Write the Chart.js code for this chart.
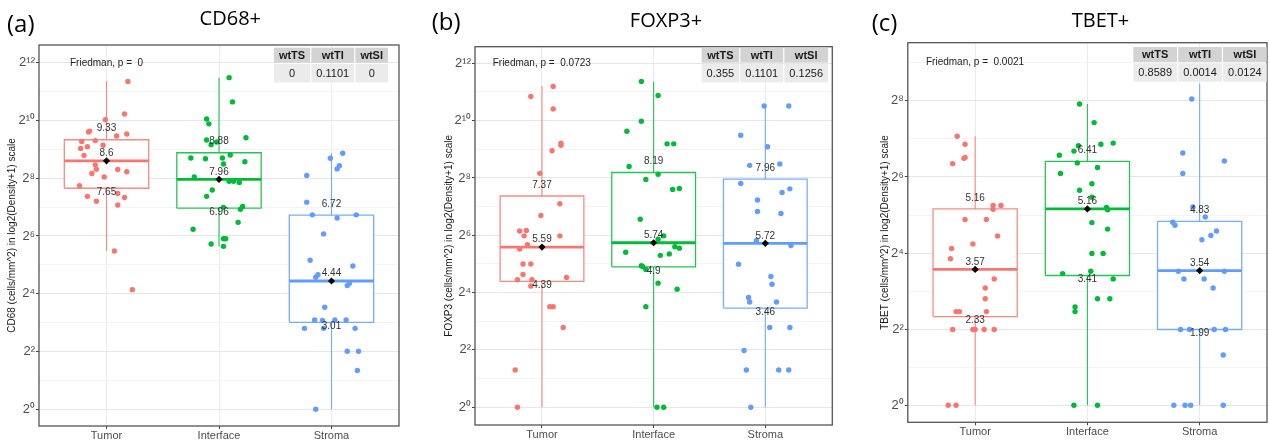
<!DOCTYPE html>
<html>
<head>
<meta charset="utf-8">
<script src="https://cdn.jsdelivr.net/npm/chart.js@4.4.0/dist/chart.umd.min.js"></script>
<style>
  body { margin: 0; width: 1269px; height: 444px; overflow: hidden; background: #fff; position: relative; }
  canvas { position: absolute; top: 0; }
</style>
</head>
<body>
<canvas id="chartA" width="420" height="444" style="left:0px"></canvas>
<canvas id="chartB" width="430" height="444" style="left:420px"></canvas>
<canvas id="chartC" width="421" height="444" style="left:850px"></canvas>
<script>
const groups = ['Tumor', 'Interface', 'Stroma'];
const testNames = ['wtTS', 'wtTI', 'wtSI'];

// all values in log2(Density+1) units
// --- CD68+
const cd68Q1 = [7.65, 6.96, 3.01];
const cd68Median = [8.6, 7.96, 4.44];
const cd68Q3 = [9.33, 8.88, 6.72];
const cd68Low = [5.48, 5.64, 0];
const cd68High = [11.36, 11.48, 8.86];
const cd68Tests = ['0', '0.1101', '0'];
const cd68Friedman = '0';
const cd68Tumor = [11.35, 10.02, 10.22, 9.63, 9.6, 9.53, 9.46, 9.27, 9.3, 9.14, 9.09, 9.03, 8.79, 8.46, 8.31, 8.3, 8.22, 8.16, 8.04, 7.74, 7.47, 7.37, 7.33, 7.2, 7.07, 5.48, 4.14];
const cd68TumorJit = [0.19, -0.01, 0.16, -0.15, -0.16, 0.18, 0.09, -0.22, -0.1, -0.03, -0.17, -0.23, -0.2, -0.1, -0.09, 0.1, 0.18, -0.13, -0.02, -0.24, 0.1, -0.17, 0.16, -0.09, 0.1, 0.07, 0.23];
const cd68Interface = [11.48, 10.64, 10.05, 9.88, 9.4, 9.32, 9.16, 9.25, 8.7, 8.67, 8.7, 8.8, 8.57, 8.49, 8.04, 7.89, 7.89, 7.85, 7.59, 7.37, 6.99, 7.02, 6.92, 6.47, 6.23, 5.72, 5.9, 5.9, 5.64];
const cd68InterfaceJit = [0.09, 0.12, -0.11, -0.09, 0.24, -0.11, -0.07, -0.02, -0.25, -0.12, 0.03, 0.1, 0.23, 0.04, -0.22, 0.09, 0.13, 0.18, -0.06, -0.11, 0.04, 0.21, 0.19, 0.17, -0.23, -0.07, 0.04, 0.06, 0.04];
const cd68Stroma = [8.86, 8.69, 8.43, 8.32, 8.09, 7.17, 6.73, 6.73, 6.62, 6.07, 5.16, 4.96, 4.66, 4.57, 4.28, 4.36, 3.53, 3.09, 3.07, 3.09, 3.09, 2.8, 2.8, 2.8, 2.01, 2.01, 1.34, 0];
const cd68StromaJit = [0.1, -0.01, 0.07, 0.05, -0.22, -0.22, -0.17, 0.22, 0.05, -0.07, -0.19, 0.19, -0.12, -0.14, 0.14, 0.16, -0.06, -0.15, -0.08, 0.03, 0.13, -0.24, -0.07, 0.21, 0.14, 0.24, 0.23, -0.14];

// --- FOXP3+
const foxp3Q1 = [4.39, 4.9, 3.46];
const foxp3Median = [5.59, 5.74, 5.72];
const foxp3Q3 = [7.37, 8.19, 7.96];
const foxp3Low = [0, 0, 0];
const foxp3High = [11.2, 11.37, 10.51];
const foxp3Tests = ['0.355', '0.1101', '0.1256'];
const foxp3Friedman = '0.0723';
const foxp3Tumor = [11.19, 10.84, 10.41, 9.21, 9.14, 8.95, 8.16, 7.1, 6.69, 6.15, 6.17, 5.98, 5.98, 5.67, 5.52, 5.0, 5.0, 4.63, 4.53, 4.45, 4.45, 4.23, 3.51, 3.51, 2.78, 1.3, 0];
const foxp3TumorJit = [0.1, -0.1, 0.1, 0.17, 0.17, 0.09, -0.02, 0.16, -0.01, -0.2, -0.14, -0.16, 0.16, -0.13, -0.2, -0.17, -0.1, -0.17, 0.22, -0.22, -0.09, -0.1, 0.07, 0.1, 0.19, -0.24, -0.22];
const foxp3Interface = [11.37, 10.88, 9.98, 9.63, 9.19, 9.19, 8.4, 8.13, 7.95, 7.6, 7.63, 6.56, 5.98, 5.86, 5.6, 5.55, 5.41, 5.35, 5.3, 4.94, 4.91, 4.81, 4.33, 4.12, 3.51, 0, 0];
const foxp3InterfaceJit = [-0.11, 0.04, -0.11, -0.24, 0.12, 0.18, -0.22, 0.04, -0.07, 0.17, 0.23, -0.12, 0.09, 0.04, 0.19, 0.23, -0.25, 0.14, 0.06, -0.11, -0.1, -0.07, 0.04, 0.21, -0.07, 0.03, 0.09];
const foxp3Stroma = [10.51, 10.51, 9.49, 9.09, 8.44, 8.49, 7.81, 7.62, 7.49, 7.23, 6.83, 6.76, 5.81, 5.64, 4.99, 4.56, 4.29, 3.83, 3.67, 3.67, 2.78, 2.78, 1.98, 1.3, 1.3, 1.3, 0];
const foxp3StromaJit = [-0.01, 0.21, -0.22, 0.02, -0.14, 0.13, -0.22, 0.22, 0.15, -0.07, -0.07, 0.14, -0.08, 0.23, -0.24, 0.05, 0.06, -0.15, -0.14, 0.1, 0.04, 0.22, -0.19, -0.17, 0.12, 0.21, -0.13];

// --- TBET+
const tbetQ1 = [2.33, 3.41, 1.99];
const tbetMedian = [3.57, 5.16, 3.54];
const tbetQ3 = [5.16, 6.41, 4.83];
const tbetLow = [0, 0, 0];
const tbetHigh = [7.07, 7.92, 8.46];
const tbetTests = ['0.8589', '0.0014', '0.0124'];
const tbetFriedman = '0.0021';
const tbetTumor = [7.07, 6.86, 6.35, 6.49, 6.51, 5.25, 5.25, 5.15, 4.88, 4.88, 4.45, 4.24, 4.12, 3.85, 3.32, 3.08, 2.8, 2.46, 2.46, 2.46, 1.99, 1.99, 1.99, 1.99, 1.99, 0, 0];
const tbetTumorJit = [-0.16, -0.09, -0.2, -0.1, -0.09, 0.16, 0.23, 0.16, -0.09, 0.1, 0.2, -0.02, -0.21, -0.22, 0.17, 0.09, 0.09, -0.17, -0.14, 0.1, -0.2, -0.02, 0.0, 0.08, 0.17, -0.24, -0.17];
const tbetInterface = [7.92, 7.43, 6.89, 6.86, 6.82, 6.68, 6.57, 6.37, 6.25, 6.09, 5.82, 5.65, 5.47, 5.2, 5.14, 4.8, 4.63, 3.99, 3.99, 3.52, 3.46, 3.32, 2.8, 2.8, 2.58, 2.46, 0, 0];
const tbetInterfaceJit = [-0.07, 0.06, 0.23, 0.12, -0.08, -0.12, -0.25, -0.09, 0.09, -0.24, 0.04, -0.07, 0.04, 0.17, 0.18, 0.04, 0.18, 0.04, 0.14, 0.03, -0.22, 0.23, 0.09, 0.2, -0.11, -0.11, -0.12, 0.09];
const tbetStroma = [8.05, 6.63, 6.42, 6.09, 5.21, 4.95, 4.81, 4.73, 4.58, 4.46, 4.35, 3.52, 3.52, 3.32, 3.32, 3.08, 1.99, 1.99, 1.99, 1.99, 1.32, 0, 0, 0, 0];
const tbetStromaJit = [-0.07, -0.15, 0.22, -0.15, -0.06, 0.05, -0.24, -0.22, 0.15, 0.1, 0.02, -0.19, 0.22, -0.14, 0.04, 0.12, -0.17, -0.09, 0.13, 0.23, 0.21, -0.23, -0.13, -0.08, 0.21];

const pointColors = ['#F8766D', '#00BA38', '#619CFF'];
const lineColors = ['rgba(248,118,109,0.85)', 'rgba(0,186,56,0.85)', 'rgba(97,156,255,0.85)'];
const BOX_HALF = 0.375;

const sup = { '0': '\u2070', '1': '\u00B9', '2': '\u00B2', '3': '\u00B3', '4': '\u2074', '5': '\u2075', '6': '\u2076', '7': '\u2077', '8': '\u2078', '9': '\u2079' };
function powLabel(v) {
    return '2' + String(v).split('').map(c => sup[c]).join('');
}

function buildDatasets(s) {
    const ds = [];
    for (let i = 0; i < groups.length; i++) {
        // whiskers
        ds.push({
            type: 'line', order: 5, borderColor: lineColors[i], borderWidth: 1.1,
            pointRadius: 0, spanGaps: false, tension: 0,
            data: [{ x: i, y: s.low[i] }, { x: i, y: s.q1[i] }, { x: i, y: null }, { x: i, y: s.q3[i] }, { x: i, y: s.high[i] }]
        });
        // box
        ds.push({
            type: 'line', order: 4, borderColor: lineColors[i], borderWidth: 1.3,
            backgroundColor: '#ffffff', fill: 'shape', pointRadius: 0, tension: 0,
            data: [
                { x: i - BOX_HALF, y: s.q1[i] }, { x: i + BOX_HALF, y: s.q1[i] },
                { x: i + BOX_HALF, y: s.q3[i] }, { x: i - BOX_HALF, y: s.q3[i] },
                { x: i - BOX_HALF, y: s.q1[i] }
            ]
        });
        // median
        ds.push({
            type: 'line', order: 3, borderColor: pointColors[i], borderWidth: 2.8,
            pointRadius: 0, tension: 0,
            data: [{ x: i - BOX_HALF, y: s.med[i] }, { x: i + BOX_HALF, y: s.med[i] }]
        });
        // jittered observations
        ds.push({
            type: 'scatter', order: 2, backgroundColor: pointColors[i], borderWidth: 0,
            pointRadius: 2.7,
            data: s.pts[i].map((v, k) => ({ x: i + s.jit[i][k], y: v }))
        });
        // median marker
        ds.push({
            type: 'scatter', order: 0, backgroundColor: '#000', borderColor: '#000', borderWidth: 0,
            pointStyle: 'rectRot', pointRadius: 3.6,
            data: [{ x: i, y: s.med[i] }]
        });
    }
    return ds;
}

const decor = {
    id: 'decor',
    afterDatasetsDraw(chart, args, o) {
        const { ctx, chartArea: a, scales: { x, y } } = chart;
        ctx.save();
        // box value labels
        ctx.font = '10px "Liberation Sans", Arial, sans-serif';
        ctx.fillStyle = '#333';
        ctx.textAlign = 'center';
        ctx.textBaseline = 'middle';
        for (let i = 0; i < groups.length; i++) {
            const px = x.getPixelForValue(i);
            ctx.fillText(String(o.q3[i]), px, y.getPixelForValue(o.q3[i]) - 11);
            ctx.fillText(String(o.med[i]), px, y.getPixelForValue(o.med[i]) - 7.5);
            ctx.fillText(String(o.q1[i]), px, y.getPixelForValue(o.q1[i]) + 4);
        }
        // panel border
        ctx.strokeStyle = '#555';
        ctx.lineWidth = 1.3;
        ctx.strokeRect(a.left, a.top, a.width, a.height);
        // Friedman label
        ctx.textAlign = 'left';
        ctx.fillStyle = '#222';
        ctx.fillText('Friedman, p =  ' + o.friedman, o.pX, o.pY);
        // test table
        const fb = 'bold 11px "Liberation Sans", Arial, sans-serif';
        const fn = '11px "Liberation Sans", Arial, sans-serif';
        ctx.font = fb;
        const hw = testNames.map(n => ctx.measureText(n).width);
        ctx.font = fn;
        const vw = o.tests.map(v => ctx.measureText(v).width);
        const cw = hw.map((w, i) => Math.max(w, vw[i]) + 10);
        const gap = 1.2, hH = 15, vH = 18.5;
        let cx = o.tableRight - cw.reduce((s, w) => s + w, 0) - gap * (cw.length - 1);
        ctx.textAlign = 'center';
        cw.forEach((w, i) => {
            ctx.fillStyle = '#d3d3d3';
            ctx.fillRect(cx, o.tableTop, w, hH);
            ctx.fillStyle = '#ebebeb';
            ctx.fillRect(cx, o.tableTop + hH + gap, w, vH);
            ctx.fillStyle = '#1a1a1a';
            ctx.font = fb;
            ctx.fillText(testNames[i], cx + w / 2, o.tableTop + hH / 2 + 0.5);
            ctx.font = fn;
            ctx.fillText(o.tests[i], cx + w / 2, o.tableTop + hH + gap + vH / 2 + 0.5);
            cx += w + gap;
        });
        // panel tag and title
        ctx.fillStyle = '#000';
        ctx.textAlign = 'left';
        ctx.font = '24px "Open Sans", sans-serif';
        ctx.fillText(o.tag, o.tagX, o.tagY);
        ctx.textAlign = 'center';
        ctx.font = '20px "Open Sans", sans-serif';
        ctx.fillText(o.title, o.titleX, o.titleY);
        ctx.restore();
    }
};

Chart.defaults.font.family = '"Liberation Sans", Arial, sans-serif';

function makePanel(id, cfg) {
    const stats = { q1: cfg.q1, med: cfg.med, q3: cfg.q3, low: cfg.low, high: cfg.high, pts: cfg.pts, jit: cfg.jit };
    new Chart(document.getElementById(id), {
        type: 'scatter',
        data: { datasets: buildDatasets(stats) },
        plugins: [decor],
        options: {
            responsive: false,
            animation: false,
            layout: { padding: cfg.padding },
            plugins: {
                legend: { display: false },
                tooltip: { enabled: false },
                decor: {
                    q1: cfg.q1, med: cfg.med, q3: cfg.q3,
                    friedman: cfg.friedman, tests: cfg.tests,
                    pX: cfg.pX, pY: cfg.pY, tableRight: cfg.tableRight, tableTop: cfg.tableTop,
                    tag: cfg.tag, tagX: cfg.tagX, tagY: cfg.tagY,
                    title: cfg.title, titleX: cfg.titleX, titleY: cfg.titleY
                }
            },
            scales: {
                x: {
                    type: 'linear', min: -0.6, max: 2.6,
                    afterBuildTicks: s => { s.ticks = groups.map((g, i) => ({ value: i })); },
                    afterFit: s => { s.height = cfg.xH; },
                    border: { display: false },
                    grid: { color: '#ebebeb', tickLength: 3, tickColor: '#444' },
                    ticks: { padding: 0, color: '#4d4d4d', font: { size: 11 }, maxRotation: 0, callback: v => groups[v] }
                },
                y: {
                    type: 'linear', min: cfg.yMin, max: cfg.yMax,
                    afterBuildTicks: s => {
                        const t = [];
                        for (let v = 0; v <= Math.floor(cfg.yMax); v++) t.push({ value: v });
                        s.ticks = t;
                    },
                    afterFit: s => { s.width = cfg.yW; },
                    border: { display: false },
                    grid: {
                        color: c => (c.tick && c.tick.value % 2 !== 0) ? '#f4f4f4' : '#e6e6e6',
                        tickLength: 3,
                        tickColor: c => (c.tick && c.tick.value % 2 !== 0) ? 'rgba(0,0,0,0)' : '#444'
                    },
                    ticks: { padding: 1, color: '#4d4d4d', font: { size: 13 }, callback: v => (v % 2 === 0 ? powLabel(v) : '') },
                    title: { display: true, text: cfg.yTitle, color: '#1a1a1a', font: { size: 10 }, padding: 0 }
                }
            }
        }
    });
}

makePanel('chartA', {
    q1: cd68Q1, med: cd68Median, q3: cd68Q3, low: cd68Low, high: cd68High,
    pts: [cd68Tumor, cd68Interface, cd68Stroma], jit: [cd68TumorJit, cd68InterfaceJit, cd68StromaJit],
    tests: cd68Tests, friedman: cd68Friedman,
    yTitle: 'CD68 (cells/mm^2) in log2(Density+1) scale', title: 'CD68+', tag: '(a)',
    padding: { top: 45, right: 21, bottom: 0, left: 6.7 }, yW: 32.3, xH: 18, yMin: -0.58, yMax: 12.61,
    pX: 70, pY: 63, tableRight: 388, tableTop: 47.7, tagX: 7, tagY: 25, titleX: 230.3, titleY: 19
});

makePanel('chartB', {
    q1: foxp3Q1, med: foxp3Median, q3: foxp3Q3, low: foxp3Low, high: foxp3High,
    pts: [foxp3Tumor, foxp3Interface, foxp3Stroma], jit: [foxp3TumorJit, foxp3InterfaceJit, foxp3StromaJit],
    tests: foxp3Tests, friedman: foxp3Friedman,
    yTitle: 'FOXP3 (cells/mm^2) in log2(Density+1) scale', title: 'FOXP3+', tag: '(b)',
    padding: { top: 46.7, right: 17.7, bottom: 0, left: 23.3 }, yW: 31.7, xH: 19, yMin: -0.62, yMax: 12.58,
    pX: 72.7, pY: 63.3, tableRight: 408, tableTop: 47.7, tagX: 11.7, tagY: 23, titleX: 246, titleY: 21.7
});

makePanel('chartC', {
    q1: tbetQ1, med: tbetMedian, q3: tbetQ3, low: tbetLow, high: tbetHigh,
    pts: [tbetTumor, tbetInterface, tbetStroma], jit: [tbetTumorJit, tbetInterfaceJit, tbetStromaJit],
    tests: tbetTests, friedman: tbetFriedman,
    yTitle: 'TBET (cells/mm^2) in log2(Density+1) scale', title: 'TBET+', tag: '(c)',
    padding: { top: 42.7, right: 1.5, bottom: 0, left: 29 }, yW: 28.8, xH: 21.7, yMin: -0.45, yMax: 9.53,
    pX: 76, pY: 62.7, tableRight: 416.7, tableTop: 47, tagX: 21.7, tagY: 24, titleX: 250.5, titleY: 21
});
</script>
</body>
</html>
